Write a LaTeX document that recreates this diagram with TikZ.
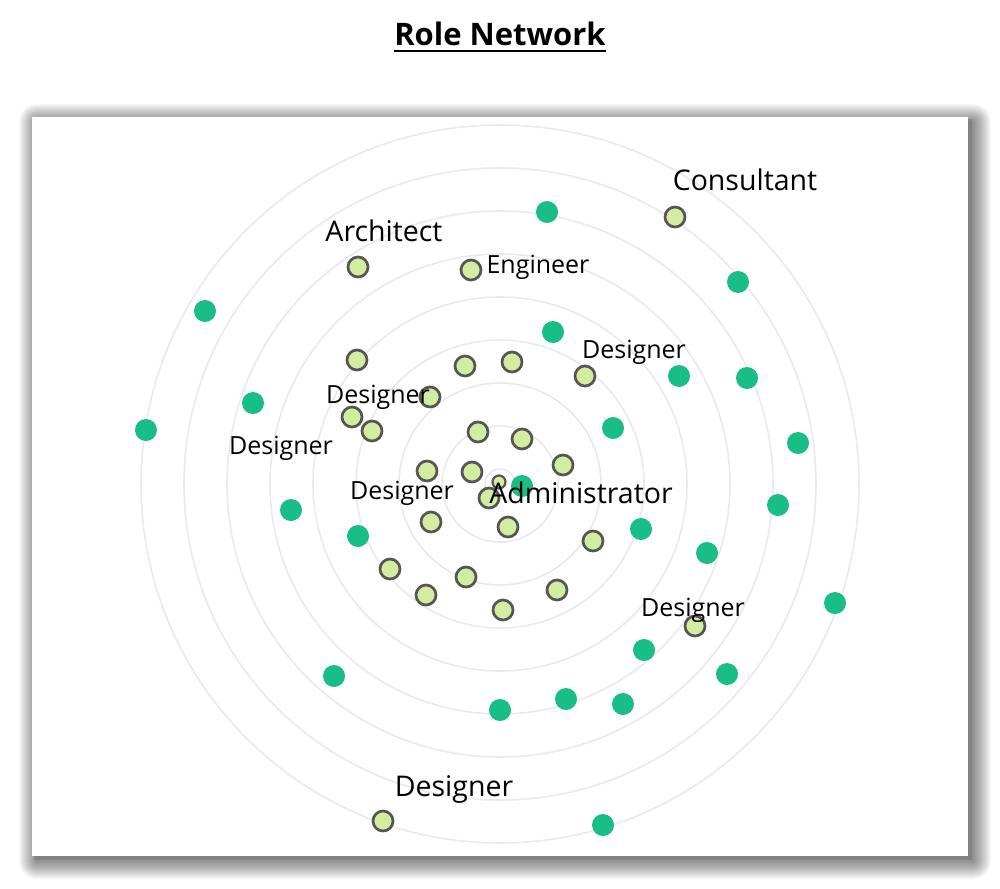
\documentclass[tikz,border=0pt]{standalone}
\usepackage{fontspec}
\setmainfont{Open Sans}
\definecolor{lgreen}{HTML}{D4EC9F}
\definecolor{bord}{HTML}{555555}
\definecolor{tealg}{HTML}{19BD86}
\definecolor{ringc}{HTML}{EAEAEA}
\begin{document}
\begin{tikzpicture}[x=1pt,y=-1pt,
  lg/.style={circle,fill=lgreen,draw=bord,line width=2.7pt,minimum size=20pt,inner sep=0pt},
  lgs/.style={lg,minimum size=13pt,line width=2.2pt},
  tg/.style={circle,fill=tealg,minimum size=22pt,inner sep=0pt},
  ring/.style={draw=ringc,line width=1.6pt},
  big/.style={font=\fontsize{28.5}{31}\selectfont,inner sep=0pt,anchor=base},
  small/.style={font=\fontsize{25}{28}\selectfont,inner sep=0pt,anchor=base}]
\useasboundingbox (0,0) rectangle (1000,888);
\fill[white] (0,0) rectangle (1000,888);
% shadow
\foreach \i in {1,...,18}{
  \fill[black,opacity=0.026,rounded corners=\i pt] (32+5-\i,117+5-\i) rectangle (968+5+\i,856+5+\i);
}
\fill[black,opacity=0.12] (34,119) rectangle (972,860);
\node[fill=white,draw=none,minimum width=936pt,minimum height=739pt,inner sep=0pt,anchor=north west] (frame) at (32,117) {};
% title
\node[font=\fontsize{31}{34}\selectfont\bfseries,inner sep=0pt,anchor=base] (title) at (500,46) {Role Network};
\draw[line width=2pt] (title.base west)++(0,5) coordinate (ul1) -- (title.base east|-ul1);
% rings
\coordinate (c) at (500,484);
\foreach \k in {0,...,8}{
  \draw[ring] (c) circle[radius={15+43*\k}];
}
% teal nodes
\node[tg] (t1) at (547,212) {};
\node[tg] (t2) at (738,282) {};
\node[tg] (t3) at (205,311) {};
\node[tg] (t4) at (553,332) {};
\node[tg] (t5) at (679,376) {};
\node[tg] (t6) at (747,378) {};
\node[tg] (t7) at (253,403) {};
\node[tg] (t8) at (146,430) {};
\node[tg] (t9) at (613,428) {};
\node[tg] (t10) at (798,443) {};
\node[tg] (t11) at (522,486) {};
\node[tg] (t12) at (778,505) {};
\node[tg] (t13) at (291,510) {};
\node[tg] (t14) at (358,536) {};
\node[tg] (t15) at (641,529) {};
\node[tg] (t16) at (707,553) {};
\node[tg] (t17) at (835,603) {};
\node[tg] (t18) at (644,650) {};
\node[tg] (t19) at (727,674) {};
\node[tg] (t20) at (334,676) {};
\node[tg] (t21) at (500,710) {};
\node[tg] (t22) at (566,699) {};
\node[tg] (t23) at (623,704) {};
\node[tg] (t24) at (603,825) {};
% light green nodes
\node[lg] (g1) at (675,217) {};
\node[lg] (g2) at (358,267) {};
\node[lg] (g3) at (471,270) {};
\node[lg] (g4) at (357,360) {};
\node[lg] (g5) at (465,366) {};
\node[lg] (g6) at (512,362) {};
\node[lg] (g7) at (585,376) {};
\node[lg] (g8) at (430,397) {};
\node[lg] (g9) at (352,417) {};
\node[lg] (g10) at (372,431) {};
\node[lg] (g11) at (478,432) {};
\node[lg] (g12) at (522,439) {};
\node[lg] (g13) at (427,471) {};
\node[lg] (g14) at (472,472) {};
\node[lg] (g15) at (563,465) {};
\node[lgs] (g16) at (499,482) {};
\node[lg] (g17) at (489,498) {};
\node[lg] (g18) at (431,522) {};
\node[lg] (g19) at (508,527) {};
\node[lg] (g20) at (593,541) {};
\node[lg] (g21) at (390,569) {};
\node[lg] (g22) at (466,577) {};
\node[lg] (g23) at (426,595) {};
\node[lg] (g24) at (557,590) {};
\node[lg] (g25) at (503,610) {};
\node[lg] (g26) at (695,626) {};
\node[lg] (g27) at (383,821) {};
% labels
\node[big] (l1) at (745,190) {Consultant};
\node[big] (l2) at (384,241) {Architect};
\node[small] (l3) at (538,273) {Engineer};
\node[small] (l4) at (634,358) {Designer};
\node[small] (l5) at (378,403) {Designer};
\node[small] (l6) at (281,454) {Designer};
\node[small] (l7) at (402,499) {Designer};
\node[big] (l8) at (581,503) {Administrator};
\node[small] (l9) at (693,616) {Designer};
\node[big] (l10) at (454,796) {Designer};
\end{tikzpicture}
\end{document}
